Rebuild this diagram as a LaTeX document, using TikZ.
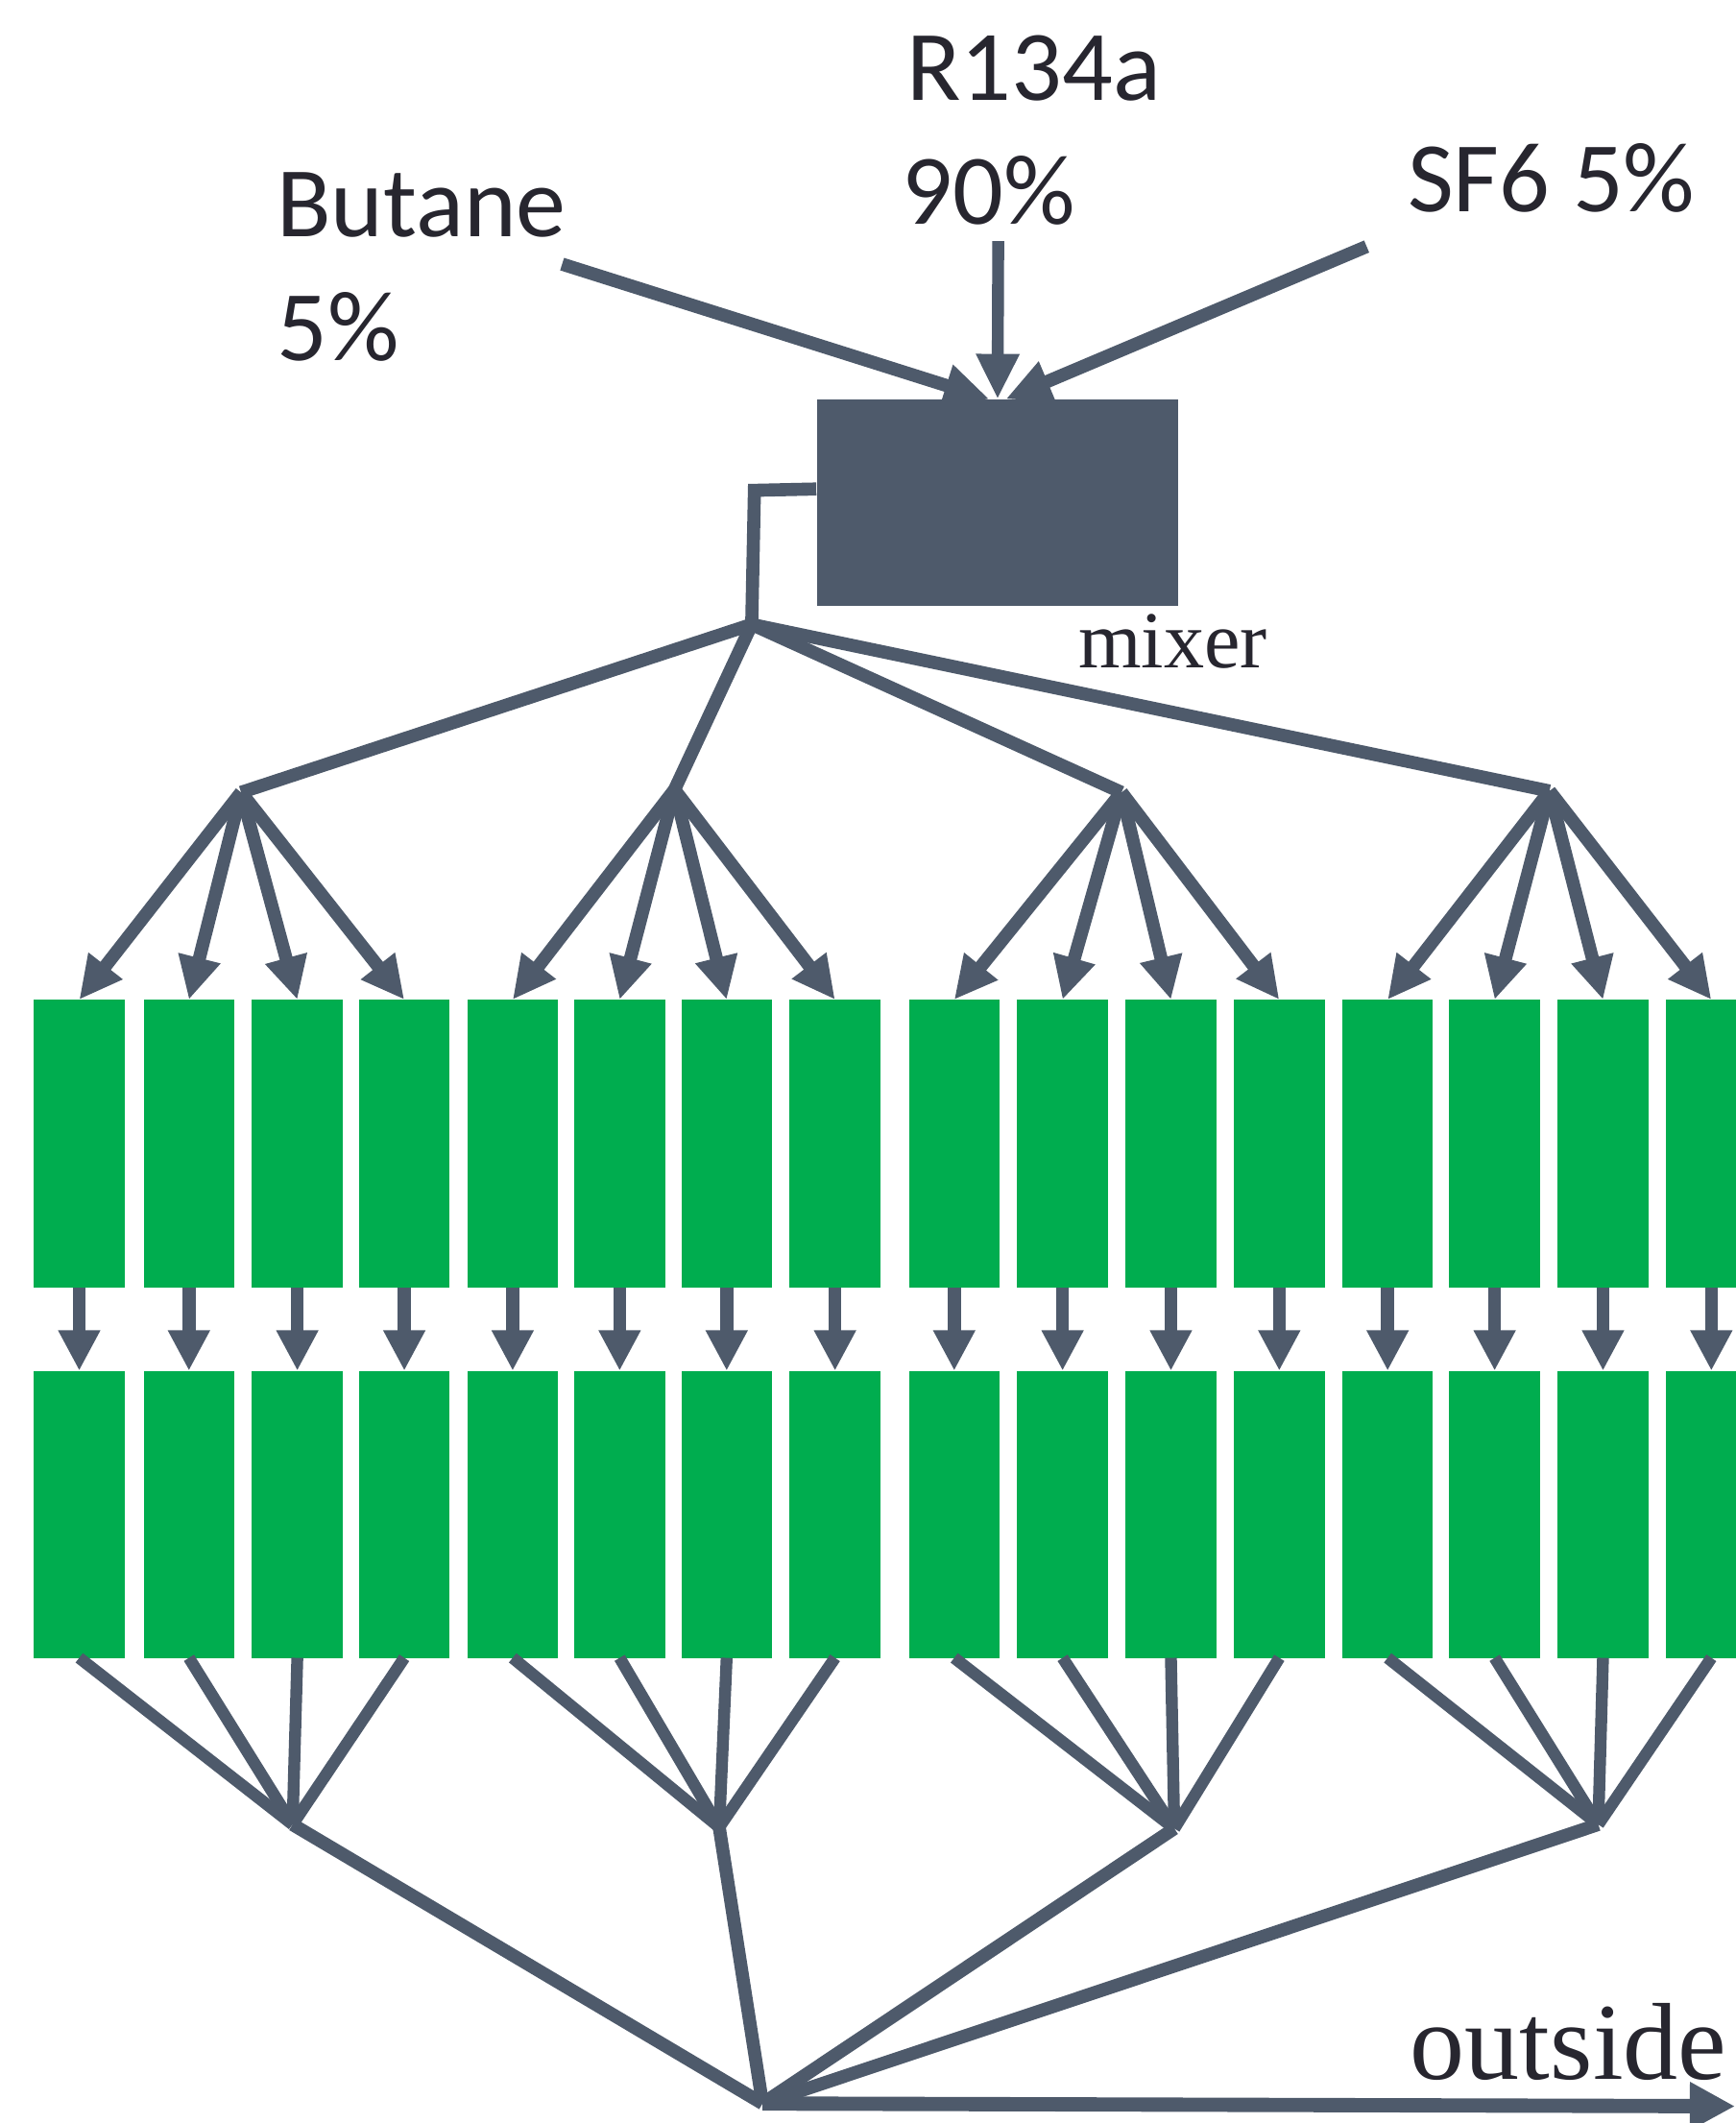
\documentclass[tikz,border=0pt]{standalone}
\usepackage{fontspec}
\setmainfont{Liberation Serif}
\newfontfamily\labelsans{Carlito}
\usetikzlibrary{arrows.meta}
\definecolor{ink}{HTML}{4E5A6B}
\definecolor{leaf}{HTML}{00AD4F}
\definecolor{txt}{HTML}{27262F}

\tikzset{
  flow/.style={draw=ink, line width=5.5pt},
  fan/.style={flow, -{Triangle[length=18pt,width=17pt]}},
  feed/.style={flow, -{Triangle[length=19pt,width=17pt]}},
  cell/.style={rectangle, fill=leaf, draw=none, minimum width=1.34cm,
    minimum height=4.26cm, inner sep=0pt, outer sep=0pt},
  gas/.style={text=txt, font=\labelsans\fontsize{42}{50}\selectfont,
    inner sep=0pt, anchor=base west},
  tag/.style={text=txt, inner sep=0pt, anchor=base west},
}

\begin{document}
\begin{tikzpicture}[x=0.02cm, y=-0.02cm]
\useasboundingbox (0,0) rectangle (1281,1567.4);

% gas labels
\node[gas] (r134) at (669,74.4) {R134a};
\node[gas] (r134pct) at (666,165.4) {90\%};
\node[gas] (butane) at (204,175) {Butane};
\node[gas] (butanepct) at (204,266) {5\%};
\node[gas] (sf6) at (1039,156) {SF6 5\%};

% mixer
\node[rectangle, fill=ink, minimum width=5.34cm, minimum height=3.04cm,
  inner sep=0pt] (mixer) at (736.5,371) {};
\node[tag, font=\fontsize{34}{40}\selectfont] (mixlbl) at (796,492.7) {mixer};

% feed lines into the mixer
\coordinate (butanein) at (415,195);
\coordinate (r134in) at (737,178);
\coordinate (sf6in) at (1009,182);
\draw[feed] (butanein) -- ([xshift=-0.12cm]mixer.north);
\draw[feed] (sf6in) -- ([xshift=0.12cm]mixer.north);
\draw[feed, line width=5pt] (r134in) -- (mixer.north);

% distribution from the mixer
\coordinate (bend) at (557,362);
\coordinate (split) at (555,461);
\coordinate (g1) at (178,585);
\coordinate (g2) at (498,583);
\coordinate (g3) at (828,585);
\coordinate (g4) at (1144,584);
\draw[flow] ([yshift=0.2cm]mixer.west) -- (bend) -- (split);
\foreach \g in {1,2,3,4} \draw[flow] (split) -- (g\g);

% collectors and outlet
\coordinate (c1) at (216,1347);
\coordinate (c2) at (531,1349);
\coordinate (c3) at (867,1350);
\coordinate (c4) at (1180,1347);
\coordinate (merge) at (563,1553);
\coordinate (exit) at (1281,1555);

% two rows of cells
\foreach \i/\l in {1/25,2/106,3/186,4/265,5/345,6/424,7/503,8/583,
                   9/671,10/751,11/831,12/911,13/991,14/1070,15/1150,16/1230}{
  \node[cell] (a\i) at (\l+33.5,844.5) {};
  \node[cell, minimum height=4.24cm] (b\i) at (\l+33.5,1118) {};
}

\foreach \i in {1,...,16}{
  \pgfmathtruncatemacro{\g}{(\i+3)/4}
  \draw[fan] (g\g) -- (a\i.north);
  \draw[flow, -{Triangle[length=17pt,width=16.5pt]}] (a\i.south) -- (b\i.north);
  \draw[flow, line width=5pt] (b\i.south) -- (c\g);
}

\foreach \g in {1,2,3,4} \draw[flow] (c\g) -- (merge);
\draw[flow, line width=6pt, -{Triangle[length=19pt,width=19pt]}] (merge) -- (exit);
\node[tag, font=\fontsize{46}{52}\selectfont] (outlbl) at (1041,1535) {outside};
\end{tikzpicture}
\end{document}
